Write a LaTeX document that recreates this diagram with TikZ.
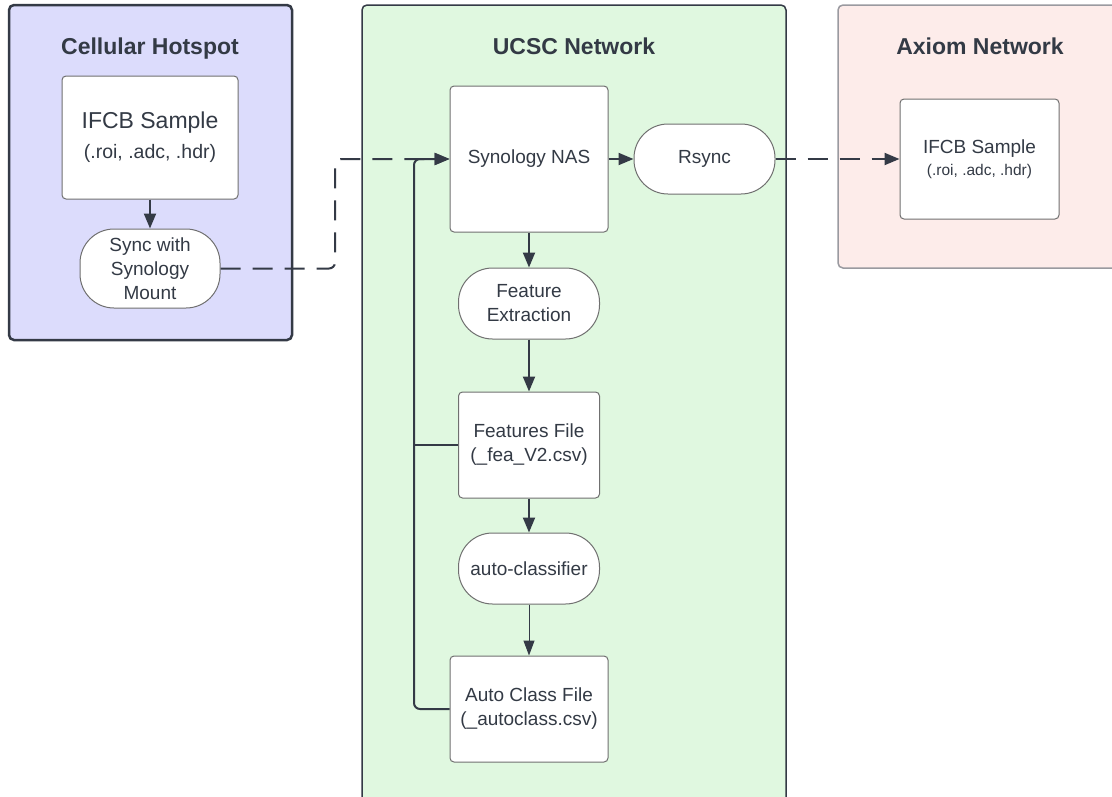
\documentclass[tikz,border=0pt]{standalone}
\usepackage{fontspec}
\setmainfont{Liberation Sans}
\usetikzlibrary{arrows.meta}
\definecolor{ink}{HTML}{343A46}
\definecolor{txt}{HTML}{333A45}
\definecolor{nodeedge}{HTML}{707070}
\definecolor{hotfill}{HTML}{DCDCFC}
\definecolor{ucscfill}{HTML}{E0F8E0}
\definecolor{axfill}{HTML}{FDECEA}
\definecolor{axedge}{HTML}{9A9AA0}
\tikzset{
  group/.style={rectangle, rounded corners=5pt, inner sep=0pt},
  title/.style={font=\fontsize{23}{28}\selectfont\bfseries, text=txt, anchor=base},
  filebox/.style={rectangle, rounded corners=4pt, draw=nodeedge, line width=1pt, fill=white,
    inner sep=0pt, align=center, text=txt, font=\fontsize{19}{24}\selectfont},
  pill/.style={filebox, rounded corners=#1},
  link/.style={draw=ink, line width=2pt, -{Triangle[length=15pt,width=12pt]}},
  thinlink/.style={draw=ink, line width=1pt, -{Triangle[length=15pt,width=11pt]}},
  dashlink/.style={link, dash pattern=on 20pt off 12pt},
}
\begin{document}
\begin{tikzpicture}[x=1pt,y=-1pt]
\useasboundingbox (0,0) rectangle (1112,796);
\clip (0,0) rectangle (1112,796);
\fill[white] (0,0) rectangle (1112,796);

% groups
\node[group, draw=ink, line width=2.5pt, fill=hotfill, minimum width=283pt, minimum height=335pt] (hotspot) at (150.5,172.5) {};
\node[group, draw=ink, line width=1.5pt, fill=ucscfill, minimum width=424pt, minimum height=820pt] (ucsc) at (574,415) {};
\node[group, draw=axedge, line width=1.5pt, fill=axfill, minimum width=290pt, minimum height=263pt] (axiom) at (983,136.5) {};

\node[title] (thot) at (150,54.5) {Cellular Hotspot};
\node[title] (tucsc) at (574,54.5) {UCSC Network};
\node[title] (taxiom) at (980,54.5) {Axiom Network};

% nodes
\node[filebox, minimum width=176pt, minimum height=123pt, font=\fontsize{23}{30}\selectfont] (ifcb) at (150,137.5)
  {IFCB Sample\\{\fontsize{19.5}{30}\selectfont (.roi, .adc, .hdr)}};
\node[pill=34pt, minimum width=140pt, minimum height=79pt] (sync) at (150,268.5)
  {Sync with\\Synology\\Mount};

\node[filebox, minimum width=158pt, minimum height=146pt] (nas) at (529,159) {Synology NAS};
\node[pill=34pt, minimum width=141pt, minimum height=70pt] (rsync) at (704.5,159) {Rsync};
\node[filebox, minimum width=159pt, minimum height=120pt, font=\fontsize{19}{22}\selectfont] (ifcbax) at (979.5,159)
  {IFCB Sample\\{\fontsize{15.5}{22}\selectfont (.roi, .adc, .hdr)}};

\node[pill=34pt, minimum width=141pt, minimum height=71pt] (fext) at (529,303.5) {Feature\\Extraction};
\node[filebox, minimum width=141pt, minimum height=106pt] (ffile) at (529,445) {Features File\\(\_fea\_V2.csv)};
\node[pill=34pt, minimum width=141pt, minimum height=71pt] (aclf) at (529,568.5) {auto-classifier};
\node[filebox, minimum width=158pt, minimum height=106pt] (acfile) at (529,709) {Auto Class File\\(\_autoclass.csv)};

\coordinate (dj) at (335,0);
\coordinate (fb) at (414,0);

% connectors
\draw[link] (ifcb) -- (sync);
\draw[dashlink, rounded corners=6pt] (sync.east) -- (sync.east -| dj) -- (nas.west -| dj) -- (nas.west);
\draw[link, rounded corners=6pt] (acfile.west) -- (acfile.west -| fb) -- (nas.west -| fb) -- (nas.west);
\draw[draw=ink, line width=2pt] (ffile.west) -- (ffile.west -| fb);
\draw[link] (nas) -- (rsync);
\draw[dashlink] (rsync.east) -- (ifcbax.west);
\draw[link] (nas) -- (fext);
\draw[link] (fext) -- (ffile);
\draw[link] (ffile) -- (aclf);
\draw[thinlink] (aclf) -- (acfile);
\end{tikzpicture}
\end{document}
